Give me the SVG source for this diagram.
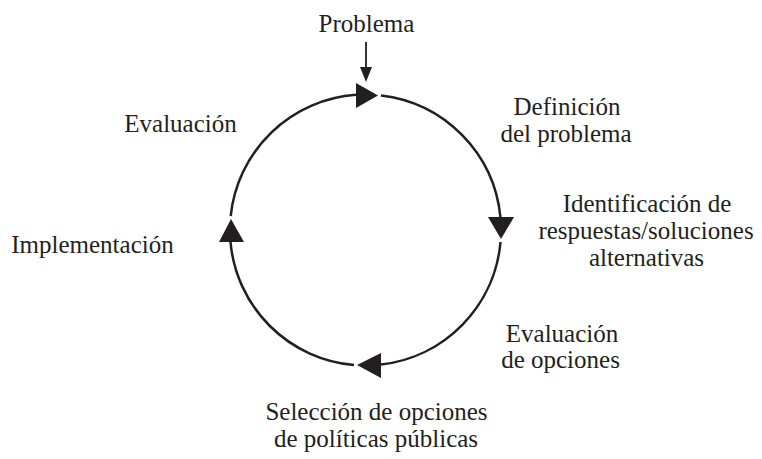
<svg xmlns="http://www.w3.org/2000/svg" width="762" height="459" viewBox="0 0 762 459">
<style>
text{font-family:"Liberation Serif","Times New Roman",serif;font-size:25px;fill:#231f20;text-anchor:middle}
.arc{fill:none;stroke:#231f20;stroke-width:2.5}
.head{fill:#231f20}
</style>
<rect width="762" height="459" fill="#fff"/>
<g id="connectors">
<line x1="366" y1="42" x2="366" y2="68" stroke="#231f20" stroke-width="1.8"/>
<polygon class="head" points="360,67 372,67 366,82"/>
<path class="arc" d="M381,95.4 A135.5,135.5 0 0 1 500.4,217"/>
<path class="arc" d="M500.5,242 A135.5,135.5 0 0 1 381,364.6"/>
<path class="arc" d="M354,365 A135.5,135.5 0 0 1 230.5,242"/>
<path class="arc" d="M230.7,216 A135.5,135.5 0 0 1 356,94.8"/>
<polygon class="head" points="356,83 356,108 378,95.5"/>
<polygon class="head" points="488,217 514,217 501,239"/>
<polygon class="head" points="381,353 381,378 357,365"/>
<polygon class="head" points="219,242 244,242 231,219"/>
</g>
<g id="problema"><text x="366.5" y="32">Problema</text></g>
<g id="definicion"><text x="567" y="115">Definición</text><text x="566" y="142">del problema</text></g>
<g id="identificacion"><text x="647" y="211.5">Identificación de</text><text x="646" y="238.5">respuestas/soluciones</text><text x="646.5" y="265.5">alternativas</text></g>
<g id="evaluacion-opciones"><text x="562" y="341.5">Evaluación</text><text x="560.5" y="368">de opciones</text></g>
<g id="seleccion"><text x="376.5" y="420">Selección de opciones</text><text x="376" y="446.5">de políticas públicas</text></g>
<g id="implementacion"><text x="92.5" y="253">Implementación</text></g>
<g id="evaluacion"><text x="180.5" y="131.5">Evaluación</text></g>
</svg>
